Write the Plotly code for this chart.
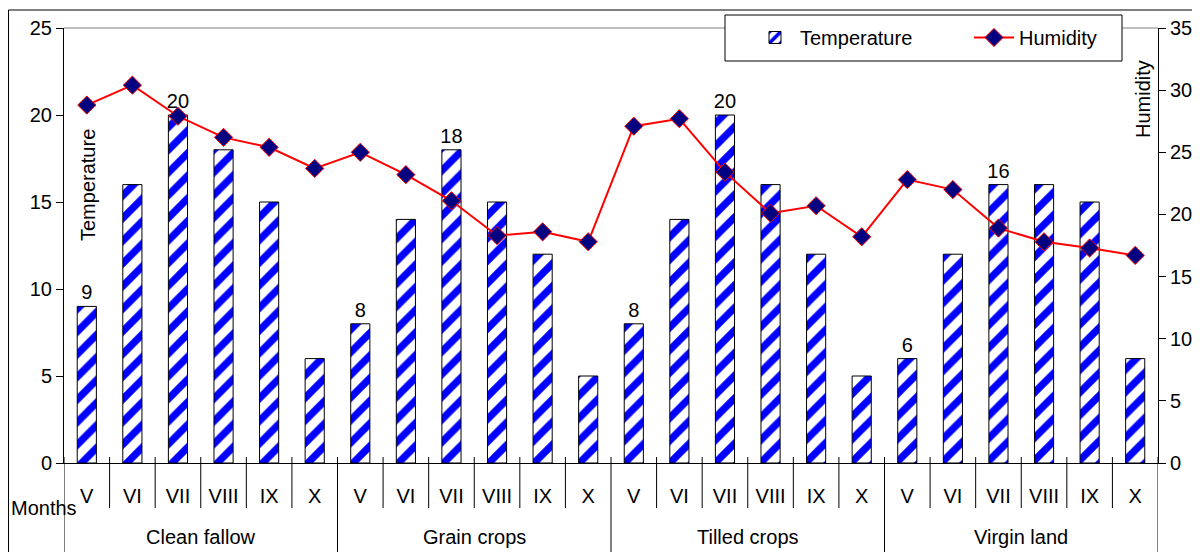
import plotly.graph_objects as go

groups = ["Clean fallow", "Grain crops", "Tilled crops", "Virgin land"]
months = ["V", "VI", "VII", "VIII", "IX", "X"]

temperature = [9, 16, 20, 18, 15, 6,
               8, 14, 18, 15, 12, 5,
               8, 14, 20, 16, 12, 5,
               6, 12, 16, 16, 15, 6]
humidity = [28.8, 30.4, 27.9, 26.2, 25.4, 23.7,
            25.0, 23.2, 21.1, 18.3, 18.6, 17.8,
            27.1, 27.7, 23.4, 20.1, 20.7, 18.2,
            22.8, 22.0, 18.9, 17.8, 17.3, 16.7]
labeled_months = ("V", "VII")

FONT = "Liberation Sans, Arial, sans-serif"
FS = 20

n_m = len(months)
n = len(groups) * n_m
xs = list(range(n))
month_labels = months * len(groups)
bar_text = [str(t) if m in labeled_months else "" for t, m in zip(temperature, month_labels)]

fig = go.Figure()
fig.add_trace(go.Bar(
    x=xs, y=temperature, name="Temperature", width=0.42,
    text=bar_text, textposition="outside", cliponaxis=False, constraintext="none",
    textfont=dict(size=FS, color="black", family=FONT),
    marker=dict(color="white", line=dict(color="black", width=1),
                pattern=dict(shape="/", fgcolor="#0000FF", bgcolor="white", fgopacity=1,
                             size=16, solidity=0.45, fillmode="replace")),
))
fig.add_trace(go.Scatter(
    x=xs, y=humidity, name="Humidity", yaxis="y2", mode="lines+markers",
    line=dict(color="#FF0000", width=2),
    marker=dict(symbol="diamond", size=14, color="#000080",
                line=dict(color="#FF0000", width=1)),
))

# page offset of the figure (browser body margin) and target geometry in screen pixels
OFF = 8
W, H = 1200 - OFF, 552 - OFF
L, R, T, B = 64, 1158, 28, 463
ph = B - T
pw = R - L
def py(p):
    return (B - p) / ph
def px(p):
    return (p - L) / pw

shapes = []
# category boundary lines
for i in range(n + 1):
    is_group = (i % n_m == 0)
    shapes.append(dict(type="line", xref="x", yref="paper",
                       x0=i - 0.5, x1=i - 0.5,
                       y0=py(457), y1=py(560 if is_group else 508),
                       line=dict(color="black", width=1)))
# top line of plot area
shapes.append(dict(type="line", xref="paper", yref="paper", x0=0, x1=1, y0=1, y1=1,
                   line=dict(color="#808080", width=1)))
# outer frame
shapes.append(dict(type="rect", xref="paper", yref="paper",
                   x0=px(8.5), x1=px(1198.5), y0=py(600), y1=py(10),
                   line=dict(color="black", width=1), fillcolor="rgba(0,0,0,0)", layer="below"))
# legend box
shapes.append(dict(type="rect", xref="paper", yref="paper",
                   x0=px(725), x1=px(1122), y0=py(61), y1=py(15),
                   line=dict(color="black", width=1), fillcolor="white", layer="above"))

annotations = []
for gi, g in enumerate(groups):
    annotations.append(dict(x=gi * n_m + (n_m - 1) / 2, y=py(537), xref="x", yref="paper",
                            text=g, showarrow=False, font=dict(size=FS, family=FONT, color="black"),
                            xanchor="center", yanchor="middle"))
annotations.append(dict(x=px(9), y=py(508), xref="paper", yref="paper", text="Months",
                        showarrow=False, xanchor="left", yanchor="middle",
                        font=dict(size=FS, family=FONT, color="black")))
annotations.append(dict(x=px(88), y=py(185), xref="paper", yref="paper", text="Temperature",
                        showarrow=False, textangle=-90, xanchor="center", yanchor="middle",
                        font=dict(size=FS, family=FONT, color="black")))
annotations.append(dict(x=px(1143), y=py(99), xref="paper", yref="paper", text="Humidity",
                        showarrow=False, textangle=-90, xanchor="center", yanchor="middle",
                        font=dict(size=FS, family=FONT, color="black")))

fig.update_layout(
    width=W, height=H,
    margin=dict(l=L - OFF, r=1200 - R, t=T - OFF, b=552 - B, autoexpand=False),
    paper_bgcolor="white", plot_bgcolor="white",
    font=dict(family=FONT, size=FS, color="black"),
    xaxis=dict(range=[-0.5, n - 0.5], tickmode="array", tickvals=xs, ticktext=month_labels,
               ticks="", showline=True, linecolor="black", linewidth=1, showgrid=False,
               zeroline=False, ticklabelstandoff=15, tickfont=dict(size=FS), automargin=False),
    yaxis=dict(range=[0, 25], dtick=5, showline=True, linecolor="black", linewidth=1,
               ticks="outside", ticklen=7, tickcolor="black", showgrid=False, zeroline=False,
               tickfont=dict(size=FS), automargin=False),
    yaxis2=dict(range=[0, 35], dtick=5, overlaying="y", side="right", showline=True,
                linecolor="black", linewidth=1, ticks="outside", ticklen=7, tickcolor="black",
                showgrid=False, zeroline=False, tickfont=dict(size=FS), automargin=False),
    legend=dict(orientation="h", x=px(750), y=py(18), xanchor="left", yanchor="top",
                borderwidth=0, bgcolor="rgba(0,0,0,0)", itemwidth=40,
                font=dict(size=FS, family=FONT), entrywidth=164, entrywidthmode="pixels",
                traceorder="normal"),
    shapes=shapes, annotations=annotations,
)

fig.write_html("out.html")
